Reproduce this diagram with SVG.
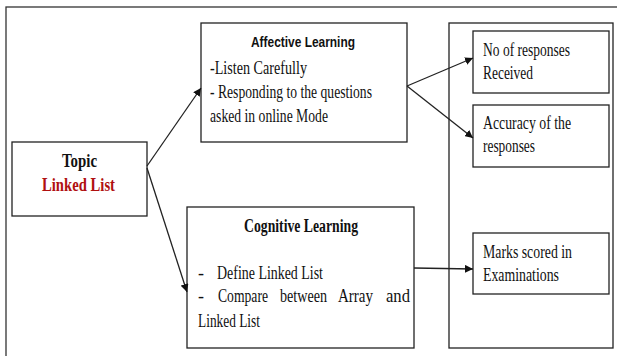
<svg xmlns="http://www.w3.org/2000/svg" width="617" height="356" viewBox="0 0 617 356">
<style>
.box{fill:#fff;stroke:#222;stroke-width:1.3}
.t{font-family:"Liberation Serif","Times New Roman",serif;font-size:18px;fill:#111}
.b{font-weight:bold}
.s{font-family:"Liberation Sans",Arial,sans-serif;font-size:15px;font-weight:bold;fill:#111}
.c{stroke:#222;stroke-width:1.3;fill:none;marker-end:url(#ah)}
</style>
<defs>
<marker id="ah" viewBox="0 0 10 10" refX="10" refY="5" markerWidth="8" markerHeight="8" markerUnits="userSpaceOnUse" orient="auto">
<path d="M0,0 L10,5 L0,10 z" fill="#111"/>
</marker>
</defs>
<rect x="0" y="0" width="617" height="356" fill="#fff"/>
<rect id="frame" x="6" y="7" width="640" height="380" fill="none" stroke="#333" stroke-width="1.3"/>
<g id="topic">
<rect class="box" x="12" y="142" width="135" height="74"/>
<text class="t b" x="62" y="167" textLength="35" lengthAdjust="spacingAndGlyphs">Topic</text>
<text class="t b" x="42" y="191" textLength="73" lengthAdjust="spacingAndGlyphs" style="fill:#b01010">Linked List</text>
</g>
<g id="affective">
<rect class="box" x="201" y="23" width="206" height="119"/>
<text class="s" x="251" y="47" textLength="104" lengthAdjust="spacingAndGlyphs">Affective Learning</text>
<text class="t" x="210" y="74" textLength="97" lengthAdjust="spacingAndGlyphs">-Listen Carefully</text>
<text class="t" x="210" y="98" textLength="162" lengthAdjust="spacingAndGlyphs">- Responding to the questions</text>
<text class="t" x="210" y="122" textLength="118" lengthAdjust="spacingAndGlyphs">asked in online Mode</text>
</g>
<g id="cognitive">
<rect class="box" x="187" y="207" width="227" height="141"/>
<text class="t b" x="244" y="232" textLength="114" lengthAdjust="spacingAndGlyphs">Cognitive Learning</text>
<text class="t" y="279"><tspan x="198">-</tspan><tspan x="217" textLength="106" lengthAdjust="spacingAndGlyphs">Define Linked List</tspan></text>
<text class="t" y="302"><tspan x="198">-</tspan><tspan x="218" textLength="50" lengthAdjust="spacingAndGlyphs">Compare</tspan><tspan x="280" textLength="47" lengthAdjust="spacingAndGlyphs">between</tspan><tspan x="338" textLength="35" lengthAdjust="spacingAndGlyphs">Array</tspan><tspan x="386" textLength="24" lengthAdjust="spacingAndGlyphs">and</tspan></text>
<text class="t" x="198" y="327" textLength="62" lengthAdjust="spacingAndGlyphs">Linked List</text>
</g>
<g id="outcomes">
<rect class="box" x="449" y="23" width="164" height="325"/>
</g>
<g id="responses">
<rect class="box" x="473" y="31" width="136" height="62"/>
<text class="t" x="483" y="56" textLength="87" lengthAdjust="spacingAndGlyphs">No of responses</text>
<text class="t" x="483" y="79" textLength="50" lengthAdjust="spacingAndGlyphs">Received</text>
</g>
<g id="accuracy">
<rect class="box" x="473" y="105" width="136" height="62"/>
<text class="t" x="483" y="129" textLength="88" lengthAdjust="spacingAndGlyphs">Accuracy of the</text>
<text class="t" x="483" y="152" textLength="52" lengthAdjust="spacingAndGlyphs">responses</text>
</g>
<g id="marks">
<rect class="box" x="473" y="233" width="136" height="61"/>
<text class="t" x="483" y="258" textLength="89" lengthAdjust="spacingAndGlyphs">Marks scored  in</text>
<text class="t" x="483" y="281" textLength="76" lengthAdjust="spacingAndGlyphs">Examinations</text>
</g>
<g id="connectors">
<line class="c" x1="147" y1="166" x2="201" y2="88"/>
<line class="c" x1="147" y1="168" x2="187" y2="292"/>
<line class="c" x1="407" y1="86" x2="473" y2="58"/>
<line class="c" x1="407" y1="86" x2="473" y2="138"/>
<line class="c" x1="414" y1="268" x2="473" y2="269"/>
</g>
</svg>
